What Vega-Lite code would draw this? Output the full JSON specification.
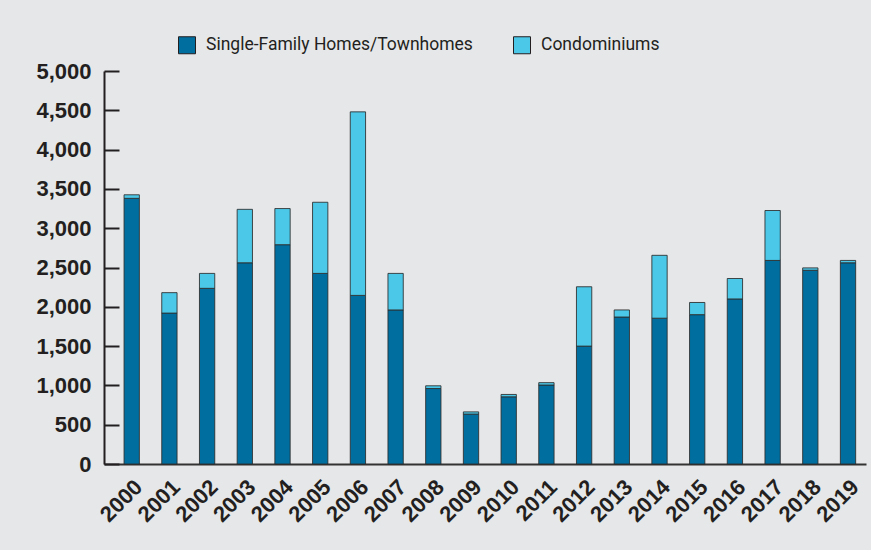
{
  "$schema": "https://vega.github.io/schema/vega-lite/v6.json",
  "width": 762,
  "height": 393,
  "autosize": {"type": "none"},
  "padding": {"left": 104, "top": 71, "right": 5, "bottom": 86},
  "background": "#e6e7e9",
  "config": {"view": {"stroke": null}, "font": "Liberation Sans"},
  "data": {
    "values": [
      {"year": "2000", "type": "Single-Family Homes/Townhomes", "ord": 1, "value": 3380},
      {"year": "2000", "type": "Condominiums", "ord": 2, "value": 45},
      {"year": "2001", "type": "Single-Family Homes/Townhomes", "ord": 1, "value": 1920},
      {"year": "2001", "type": "Condominiums", "ord": 2, "value": 260},
      {"year": "2002", "type": "Single-Family Homes/Townhomes", "ord": 1, "value": 2235},
      {"year": "2002", "type": "Condominiums", "ord": 2, "value": 190},
      {"year": "2003", "type": "Single-Family Homes/Townhomes", "ord": 1, "value": 2560},
      {"year": "2003", "type": "Condominiums", "ord": 2, "value": 680},
      {"year": "2004", "type": "Single-Family Homes/Townhomes", "ord": 1, "value": 2790},
      {"year": "2004", "type": "Condominiums", "ord": 2, "value": 460},
      {"year": "2005", "type": "Single-Family Homes/Townhomes", "ord": 1, "value": 2425},
      {"year": "2005", "type": "Condominiums", "ord": 2, "value": 905},
      {"year": "2006", "type": "Single-Family Homes/Townhomes", "ord": 1, "value": 2145},
      {"year": "2006", "type": "Condominiums", "ord": 2, "value": 2335},
      {"year": "2007", "type": "Single-Family Homes/Townhomes", "ord": 1, "value": 1960},
      {"year": "2007", "type": "Condominiums", "ord": 2, "value": 465},
      {"year": "2008", "type": "Single-Family Homes/Townhomes", "ord": 1, "value": 960},
      {"year": "2008", "type": "Condominiums", "ord": 2, "value": 35},
      {"year": "2009", "type": "Single-Family Homes/Townhomes", "ord": 1, "value": 635},
      {"year": "2009", "type": "Condominiums", "ord": 2, "value": 28},
      {"year": "2010", "type": "Single-Family Homes/Townhomes", "ord": 1, "value": 855},
      {"year": "2010", "type": "Condominiums", "ord": 2, "value": 30},
      {"year": "2011", "type": "Single-Family Homes/Townhomes", "ord": 1, "value": 1005},
      {"year": "2011", "type": "Condominiums", "ord": 2, "value": 30},
      {"year": "2012", "type": "Single-Family Homes/Townhomes", "ord": 1, "value": 1500},
      {"year": "2012", "type": "Condominiums", "ord": 2, "value": 755},
      {"year": "2013", "type": "Single-Family Homes/Townhomes", "ord": 1, "value": 1870},
      {"year": "2013", "type": "Condominiums", "ord": 2, "value": 90},
      {"year": "2014", "type": "Single-Family Homes/Townhomes", "ord": 1, "value": 1855},
      {"year": "2014", "type": "Condominiums", "ord": 2, "value": 800},
      {"year": "2015", "type": "Single-Family Homes/Townhomes", "ord": 1, "value": 1900},
      {"year": "2015", "type": "Condominiums", "ord": 2, "value": 155},
      {"year": "2016", "type": "Single-Family Homes/Townhomes", "ord": 1, "value": 2100},
      {"year": "2016", "type": "Condominiums", "ord": 2, "value": 260},
      {"year": "2017", "type": "Single-Family Homes/Townhomes", "ord": 1, "value": 2590},
      {"year": "2017", "type": "Condominiums", "ord": 2, "value": 635},
      {"year": "2018", "type": "Single-Family Homes/Townhomes", "ord": 1, "value": 2465},
      {"year": "2018", "type": "Condominiums", "ord": 2, "value": 30},
      {"year": "2019", "type": "Single-Family Homes/Townhomes", "ord": 1, "value": 2560},
      {"year": "2019", "type": "Condominiums", "ord": 2, "value": 30}
    ]
  },
  "mark": {"type": "bar", "stroke": "#2b2b2b", "strokeWidth": 1, "strokeOpacity": 0.85},
  "encoding": {
    "x": {
      "field": "year",
      "type": "ordinal",
      "scale": {"paddingInner": 0.594, "paddingOuter": 0.403, "align": 0.66},
      "axis": {
        "title": null,
        "labelAngle": -45,
        "labelFontSize": 22,
        "labelFontWeight": "bold",
        "labelColor": "#231f20",
        "ticks": false,
        "labelPadding": 12,
        "labelDx": -6,
        "domainColor": "#333333",
        "domainWidth": 2
      }
    },
    "y": {
      "field": "value",
      "type": "quantitative",
      "stack": "zero",
      "scale": {"domain": [0, 5000]},
      "axis": {
        "title": null,
        "values": [0, 500, 1000, 1500, 2000, 2500, 3000, 3500, 4000, 4500, 5000],
        "format": ",.0f",
        "grid": false,
        "labelFontSize": 22,
        "labelFontWeight": "bold",
        "labelColor": "#231f20",
        "domainColor": "#231f20",
        "domainWidth": 2,
        "tickColor": "#231f20",
        "tickWidth": 2,
        "tickSize": -15,
        "labelPadding": 28
      }
    },
    "color": {
      "field": "type",
      "type": "nominal",
      "scale": {
        "domain": ["Single-Family Homes/Townhomes", "Condominiums"],
        "range": ["#006fa0", "#4bc8e8"]
      },
      "legend": {
        "title": null,
        "orient": "none",
        "legendX": 74,
        "legendY": -35,
        "direction": "horizontal",
        "padding": 0,
        "symbolType": "square",
        "symbolSize": 289,
        "symbolStrokeColor": "#231f20",
        "symbolStrokeWidth": 1,
        "labelFont": "Roboto",
        "labelFontSize": 17.5,
        "labelLimit": 400,
        "labelColor": "#231f20",
        "labelOffset": 10,
        "columnPadding": 38
      }
    },
    "order": {"field": "ord", "type": "quantitative"}
  }
}
